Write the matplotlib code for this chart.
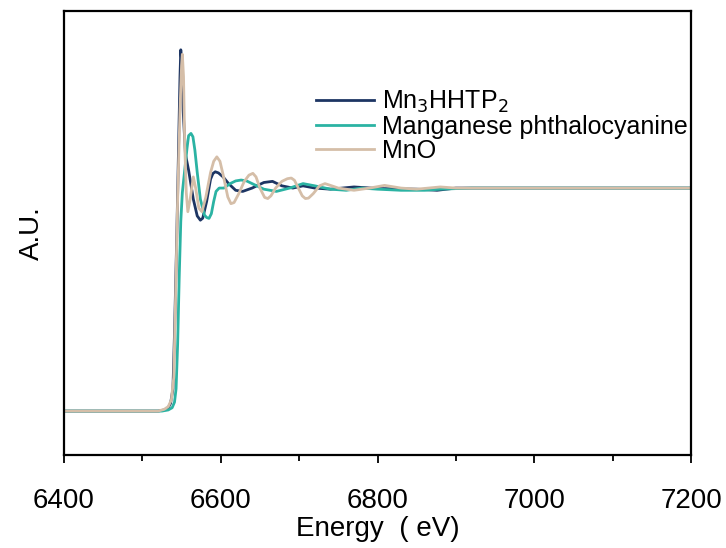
import matplotlib
matplotlib.use("Agg")
import matplotlib.pyplot as plt
from matplotlib.ticker import MultipleLocator

plt.rcParams['font.family'] = ['Liberation Sans', 'DejaVu Sans']

# normalised XANES, Mn K-edge
e_mof = [6400, 6520, 6528, 6533, 6536, 6539, 6541, 6544, 6546, 6548, 6549, 6550.5,
         6552, 6555, 6559, 6565, 6570, 6574, 6577, 6582, 6587, 6590, 6593, 6597,
         6603, 6610, 6619, 6628, 6640, 6655, 6666, 6678, 6692, 6705, 6720, 6740,
         6770, 6800, 6850, 6876, 6900, 7000, 7100, 7200]
mu_mof = [0.0, 0.0, 0.005, 0.015, 0.035, 0.1, 0.35, 0.8, 1.15, 1.5, 1.62, 1.55,
          1.35, 1.15, 1.08, 0.95, 0.875, 0.856, 0.865, 0.94, 1.04, 1.065, 1.073, 1.068,
          1.05, 1.02, 0.99, 0.985, 1.0, 1.025, 1.03, 1.01, 1.0, 1.01, 1.0, 0.995,
          1.005, 0.998, 0.995, 0.99, 1.0, 1.0, 1.0, 1.0]

e_pc = [6400, 6525, 6533, 6538, 6541, 6543, 6545, 6547, 6549, 6551, 6554, 6557,
        6559, 6562, 6564.5, 6567, 6570, 6574, 6579, 6582, 6585, 6588, 6591, 6594,
        6598, 6604, 6612, 6619, 6626, 6633, 6640, 6655, 6671, 6688, 6705, 6720,
        6740, 6760, 6780, 6800, 6830, 6860, 6880, 6920, 7000, 7100, 7200]
mu_pc = [0.0, 0.0, 0.005, 0.015, 0.04, 0.1, 0.3, 0.6, 0.85, 0.98, 1.08, 1.18,
         1.235, 1.245, 1.23, 1.17, 1.07, 0.95, 0.88, 0.868, 0.864, 0.885, 0.94, 0.985,
         1.0, 1.0, 1.02, 1.032, 1.036, 1.032, 1.02, 0.995, 0.985, 1.0, 1.02, 1.01,
         0.995, 0.99, 1.0, 0.995, 0.99, 0.99, 0.995, 1.0, 1.0, 1.0, 1.0]

e_mno = [6400, 6520, 6528, 6533, 6537, 6540, 6542, 6545, 6548, 6550, 6551, 6552.5,
         6554, 6556, 6558, 6561, 6565, 6568, 6572, 6576, 6581, 6587, 6591, 6595,
         6599, 6603, 6609, 6613, 6617, 6623, 6630, 6636, 6641, 6645, 6650, 6656,
         6660, 6664, 6670, 6678, 6685, 6690, 6694, 6699, 6704, 6708, 6712, 6718,
         6726, 6733, 6740, 6750, 6770, 6790, 6809, 6830, 6850, 6880, 6900, 7000, 7200]
mu_mno = [0.0, 0.0, 0.008, 0.02, 0.05, 0.15, 0.45, 0.95, 1.35, 1.55, 1.6, 1.5,
          1.2, 0.98, 0.894, 0.95, 1.05, 1.0, 0.91, 0.894, 0.96, 1.07, 1.12, 1.14,
          1.12, 1.06, 0.96, 0.93, 0.935, 0.975, 1.03, 1.058, 1.066, 1.05, 1.0, 0.958,
          0.953, 0.965, 1.0, 1.03, 1.042, 1.045, 1.035, 1.0, 0.965, 0.953, 0.955, 0.975,
          1.01, 1.02, 1.012, 1.0, 0.99, 1.0, 1.012, 1.0, 0.995, 1.005, 1.0, 1.0, 1.0]

labels = ['Mn$_3$HHTP$_2$', 'Manganese phthalocyanine', 'MnO']
colors = ['#1d3563', '#2bb3a3', '#d5bea8']

fig = plt.figure(figsize=(7.26, 5.48), dpi=100)
ax = fig.add_axes([64/726, 1-455/548, 627/726, 444/548])

ax.plot(e_mof, mu_mof, color=colors[0], lw=2, label=labels[0])
ax.plot(e_pc, mu_pc, color=colors[1], lw=2, label=labels[1])
ax.plot(e_mno, mu_mno, color=colors[2], lw=2, label=labels[2])

ax.set_xlim(6400, 7200)
ax.set_ylim(-0.197, 1.794)
ax.xaxis.set_major_locator(MultipleLocator(200))
ax.xaxis.set_minor_locator(MultipleLocator(100))
ax.set_yticks([])
ax.tick_params(axis='x', which='major', direction='out', length=6, width=1.3,
               labelsize=20, pad=18)
ax.tick_params(axis='x', which='minor', direction='out', length=4, width=1.3)
for sp in ax.spines.values():
    sp.set_linewidth(1.6)

ax.set_xlabel('Energy  ( eV)', fontsize=20, labelpad=1)
ax.set_ylabel('A.U.', fontsize=20, labelpad=14)

fig.legend(loc='upper left', bbox_to_anchor=(316/726, 1-89/548), frameon=False,
           fontsize=18, borderpad=0, borderaxespad=0, labelspacing=0.0,
           handlelength=2.3, handletextpad=0.35)

fig.savefig('out.png', dpi=100)
